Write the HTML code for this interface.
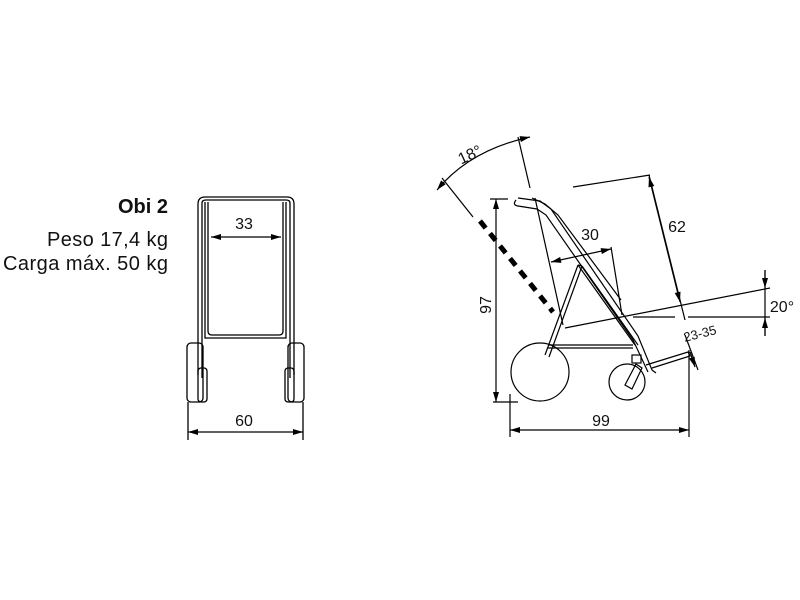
<!DOCTYPE html>
<html><head><meta charset="utf-8"><style>
html,body{margin:0;padding:0;background:#fff;width:800px;height:600px;overflow:hidden}
svg{display:block}
text{font-family:"Liberation Sans",sans-serif;fill:#111}
</style></head><body>
<svg width="800" height="600" viewBox="0 0 800 600" xmlns="http://www.w3.org/2000/svg">
<defs>
<marker id="a" viewBox="0 0 10 6" refX="10" refY="3" markerWidth="11" markerHeight="6" markerUnits="userSpaceOnUse" orient="auto-start-reverse"><path d="M0,0 L10,3 L0,6 z" fill="#000"/></marker>
</defs>
<text x="168" y="213" font-size="20" font-weight="bold" text-anchor="end">Obi 2</text>
<text x="168" y="246" font-size="20" text-anchor="end" textLength="121">Peso 17,4 kg</text>
<text x="168" y="270" font-size="20" text-anchor="end" textLength="165">Carga máx. 50 kg</text>

<g fill="none" stroke="#000" stroke-width="1.3">
<path d="M198,375 V204 Q198,197 205,197 H287 Q294,197 294,204 V375"/>
<path d="M202,378 V203 Q202,200 206,200 H286 Q290,200 290,203 V378"/>
<path d="M208,202 V331 Q208,335 212,335 H279 Q283,335 283,331 V202"/>
<path d="M205,202 V338 H286 V202"/>
<rect x="187" y="343" width="16" height="59" rx="4"/>
<rect x="198" y="368" width="9" height="34" rx="3"/>
<rect x="288" y="343" width="16" height="59" rx="4"/>
<rect x="285" y="368" width="9" height="34" rx="3"/>
<line x1="211" y1="237" x2="281" y2="237" marker-start="url(#a)" marker-end="url(#a)"/>
<line x1="188" y1="402" x2="188" y2="440"/>
<line x1="303" y1="402" x2="303" y2="440"/>
<line x1="188" y1="432" x2="303" y2="432" marker-start="url(#a)" marker-end="url(#a)"/>
</g>
<text x="244" y="229" font-size="16" text-anchor="middle">33</text>
<text x="244" y="426" font-size="16" text-anchor="middle">60</text>

<g fill="none" stroke="#000" stroke-width="1.2">
<circle cx="540" cy="372" r="29"/>
<circle cx="627" cy="382" r="18"/>
<path d="M516,200 Q512,205 518,206 L537,209 L546,215 L633,340 L648,372"/>
<path d="M518,198 L540,201 L551,209 L638,336 L652,370 L656,373"/>
<path d="M532,198 L545,204 L558,215 L621,300"/>
<path d="M578,265 L545,355 M582,266 L549,357 M578,265 L582,266"/>
<path d="M578,265 L635,345 M582,266 L638,345"/>
<path d="M548,345 L633,345 M548,348 L633,348"/>
<rect x="632" y="355" width="9" height="8"/>
<path d="M625,385 L636,364 L642,368 L632,389 z"/>
<path d="M646,365 L688,352 L690,356 L652,368"/>
<line x1="535" y1="198" x2="563" y2="325"/>
<line x1="565" y1="328" x2="770" y2="288"/>
<line x1="633" y1="317" x2="675" y2="317"/>
<line x1="688" y1="317" x2="770" y2="317"/>
<line x1="518" y1="137" x2="530" y2="188"/>
<line x1="442" y1="178" x2="473" y2="217"/>
<path d="M437,190 Q470,150 530,137" marker-start="url(#a)" marker-end="url(#a)"/>
<line x1="551" y1="262" x2="611" y2="249" marker-start="url(#a)" marker-end="url(#a)"/>
<line x1="611" y1="247" x2="622" y2="315"/>
<line x1="573" y1="187" x2="650" y2="175"/>
<line x1="649" y1="175" x2="685" y2="320"/>
<line x1="649" y1="177" x2="680" y2="302" marker-start="url(#a)" marker-end="url(#a)"/>
<line x1="685" y1="335" x2="698" y2="370"/>
<line x1="690" y1="352" x2="695" y2="367" marker-end="url(#a)"/>
<line x1="765" y1="270" x2="765" y2="336"/>
<line x1="765" y1="270" x2="765" y2="288" marker-end="url(#a)"/>
<line x1="765" y1="336" x2="765" y2="318" marker-end="url(#a)"/>
<line x1="490" y1="199" x2="508" y2="199"/>
<line x1="493" y1="402" x2="518" y2="402"/>
<line x1="496" y1="199" x2="496" y2="402" marker-start="url(#a)" marker-end="url(#a)"/>
<line x1="510" y1="394" x2="510" y2="437"/>
<line x1="689" y1="350" x2="689" y2="437"/>
<line x1="510" y1="430" x2="689" y2="430" marker-start="url(#a)" marker-end="url(#a)"/>
</g>
<line x1="480" y1="221" x2="553" y2="312" stroke="#000" stroke-width="5" stroke-dasharray="9,7"/>
<text x="470" y="160" font-size="16" transform="rotate(-25 470 155)" text-anchor="middle">18°</text>
<text x="590" y="240" font-size="16" text-anchor="middle">30</text>
<text x="677" y="232" font-size="16" text-anchor="middle">62</text>
<text x="782" y="312" font-size="16" text-anchor="middle">20°</text>
<text x="700" y="338" font-size="13" text-anchor="middle" transform="rotate(-14 700 334)">23-35</text>
<text x="486" y="310" font-size="16" text-anchor="middle" transform="rotate(-90 486 305)">97</text>
<text x="601" y="426" font-size="16" text-anchor="middle">99</text>
</svg>
</body></html>
